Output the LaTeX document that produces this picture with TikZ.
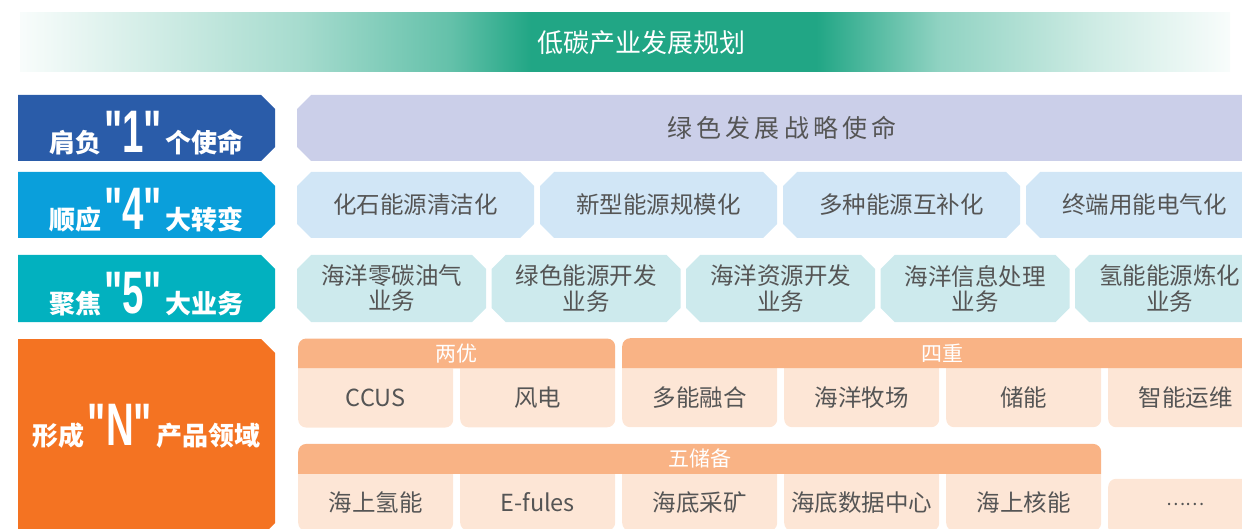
\documentclass[tikz,border=0pt]{standalone}
\usepackage{graphicx}
\usepackage{fontspec}
\setmainfont{Noto Sans CJK SC}
\newfontfamily\numfont{Liberation Sans}
\usetikzlibrary{matrix,fit,positioning,backgrounds}

\definecolor{bandgreen}{HTML}{21A685}
\definecolor{onebg}{HTML}{2A5CA9}
\definecolor{fourbg}{HTML}{0A9FDB}
\definecolor{fivebg}{HTML}{02B1BF}
\definecolor{nbg}{HTML}{F47322}
\definecolor{missionfill}{HTML}{CBCFE9}
\definecolor{shiftfill}{HTML}{D1E6F6}
\definecolor{taskfill}{HTML}{CDEAED}
\definecolor{headfill}{HTML}{F9B385}
\definecolor{cellfill}{HTML}{FDE6D6}
\definecolor{textgray}{HTML}{555555}

\pgfdeclarehorizontalshading{bandshade}{100bp}{%
  color(0bp)=(bandgreen!3!white); color(25bp)=(bandgreen!3!white);
  color(36.6bp)=(bandgreen!40!white); color(42.8bp)=(bandgreen!70!white);
  color(46.1bp)=(bandgreen); color(57.9bp)=(bandgreen);
  color(63bp)=(bandgreen!50!white); color(69.4bp)=(bandgreen!22!white);
  color(75bp)=(bandgreen!3!white); color(100bp)=(bandgreen!3!white)}

\newcommand\bignum[1]{\hspace{3pt}\scalebox{0.64}[1]{\numfont\fontsize{60}{60}\selectfont\bfseries"#1"}\hspace{4pt}}
% outlines drawn behind the named nodes
\newcommand\cutall[1]{([xshift=14pt]#1.north west) -- ([xshift=-14pt]#1.north east)
  -- ([yshift=-14pt]#1.north east) -- ([yshift=14pt]#1.south east)
  -- ([xshift=-14pt]#1.south east) -- ([xshift=14pt]#1.south west)
  -- ([yshift=14pt]#1.south west) -- ([yshift=-14pt]#1.north west) -- cycle}
\newcommand\cutright[1]{(#1.north west) -- ([xshift=-14pt]#1.north east)
  -- ([yshift=-14pt]#1.north east) -- ([yshift=14pt]#1.south east)
  -- ([xshift=-14pt]#1.south east) -- (#1.south west) -- cycle}
\newcommand\cutleft[1]{([xshift=14pt]#1.north west) -- (#1.north east)
  -- (#1.south east) -- ([xshift=14pt]#1.south west)
  -- ([yshift=14pt]#1.south west) -- ([yshift=-14pt]#1.north west) -- cycle}
\newcommand\roundbottom[1]{(#1.north west) -- (#1.north east)
  -- ([yshift=8pt]#1.south east) arc[start angle=0, end angle=-90, radius=8pt]
  -- ([xshift=8pt]#1.south west) arc[start angle=-90, end angle=-180, radius=8pt] -- cycle}
\newcommand\roundtop[1]{(#1.south west) -- ([yshift=-8pt]#1.north west)
  arc[start angle=180, end angle=90, radius=8pt]
  -- ([xshift=-8pt]#1.north east) arc[start angle=90, end angle=0, radius=8pt]
  -- (#1.south east) -- cycle}

\tikzset{
     cutbox/.style = { rectangle, inner sep=0pt, outer sep=0pt, anchor=north west },
      badge/.style = { cutbox, minimum width=257pt, text=white,
                       font=\fontsize{26}{26}\selectfont\bfseries,
                       text height=53pt, text depth=3pt },
   shiftbox/.style = { cutbox, minimum width=237pt, minimum height=66pt,
                       text=textgray, font=\fontsize{23.5}{25}\selectfont },
    taskbox/.style = { cutbox, minimum width=189pt, minimum height=67pt,
                       align=center, text=textgray, font=\fontsize{23.5}{25}\selectfont },
    cellbox/.style = { rectangle, minimum width=155pt, minimum height=59pt,
                       inner sep=0pt, outer sep=0pt,
                       text=textgray, font=\fontsize{23.5}{25}\selectfont },
    headbox/.style = { rectangle, inner sep=0pt, outer sep=0pt },
   headtext/.style = { text=white, font=\fontsize{21}{21}\selectfont },
    bandbox/.style = { rectangle, minimum width=1210pt, minimum height=59pt, inner sep=0pt,
                       shade, shading=bandshade },
   bandtext/.style = { text=white, font=\fontsize{26}{26}\selectfont }
}

\begin{document}
\begin{tikzpicture}[x=1pt, y=-1pt]
  \useasboundingbox (0,0) rectangle (1242,529);
  \clip (0,0) rectangle (1242,529);

  % title band
  \node[bandbox] (band) at (625,42.5) {};
  \node[bandtext] (title) at ([xshift=16pt]band.center) {低碳产业发展规划};

  % row 1
  \node[badge, minimum height=66pt] (one) at (18,95) {肩负\bignum{1}个使命};
  \node[cutbox, minimum width=970pt, minimum height=66pt, text=textgray,
        font=\fontsize{25}{25}\selectfont] (mission) at (297,95) {绿\,色\,发\,展\,战\,略\,使\,命};

  % row 2
  \node[badge, minimum height=66pt] (four) at (18,172) {顺应\bignum{4}大转变};
  \node[shiftbox] (s1) at (297,172) {化石能源清洁化};
  \node[shiftbox, right=6pt of s1] (s2) {新型能源规模化};
  \node[shiftbox, right=6pt of s2] (s3) {多种能源互补化};
  \node[shiftbox, right=6pt of s3] (s4) {终端用能电气化};

  % row 3
  \node[badge, minimum height=67pt] (five) at (18,255) {聚焦\bignum{5}大业务};
  \node[taskbox] (t1) at (297,255) {海洋零碳油气\\业务};
  \node[taskbox, right=5.5pt of t1] (t2) {绿色能源开发\\业务};
  \node[taskbox, right=5.5pt of t2] (t3) {海洋资源开发\\业务};
  \node[taskbox, right=5.5pt of t3] (t4) {海洋信息处理\\业务};
  \node[taskbox, right=5.5pt of t4] (t5) {氢能能源炼化\\业务};

  % row 4
  \node[badge, minimum height=198pt, text height=43pt, text depth=28pt]
       (nfield) at (18,339) {形成\bignum{N}产品领域};
  \matrix (prod)
    [
      matrix of nodes,
      nodes        = { cellbox },
      column sep   = 7pt,
      row sep      = 46pt,
      inner sep    = 0pt,
      anchor       = north west,
      row 2/.style = { nodes = { minimum height=57pt } }
    ] at (298,368)
    {
      CCUS     & 风电    & 多能融合 & 海洋牧场     & 储能     & 智能运维 \\
      海上氢能 & E-fules & 海底采矿 & 海底数据中心 & 海上核能 & \raisebox{6pt}{\fontsize{18}{18}\selectfont ……} \\
    };
  \node[headbox, fit={([yshift=30pt]prod-1-1.north west)(prod-1-2.north east)},
        label={[headtext]center:两优}] (twoadv) {};
  \node[headbox, fit={([yshift=30pt]prod-1-3.north west)(prod-1-6.north east)},
        label={[headtext]center:四重}] (fourkey) {};
  \node[headbox, fit={([yshift=30pt]prod-2-1.north west)(prod-2-5.north east)},
        label={[headtext]center:五储备}] (fivereserve) {};

  \begin{scope}[on background layer]
    \clip (0,0) rectangle (1242,529);
    \foreach \b/\col in {one/onebg, four/fourbg, five/fivebg, nfield/nbg} {
      \fill[\col] \cutright{\b};
    }
    \fill[missionfill] \cutleft{mission};
    \foreach \i in {1,...,4} {
      \fill[shiftfill] \cutall{s\i};
    }
    \foreach \i in {1,...,5} {
      \fill[taskfill] \cutall{t\i};
    }
    \foreach \r/\c in {1/1,1/2,1/3,1/4,1/5,1/6,2/1,2/2,2/3,2/4,2/5} {
      \fill[cellfill] \roundbottom{prod-\r-\c};
    }
    \fill[cellfill, rounded corners=8pt] (prod-2-6.north west) rectangle (prod-2-6.south east);
    \foreach \h in {twoadv,fourkey,fivereserve} {
      \fill[headfill] \roundtop{\h};
    }
  \end{scope}
\end{tikzpicture}
\end{document}
